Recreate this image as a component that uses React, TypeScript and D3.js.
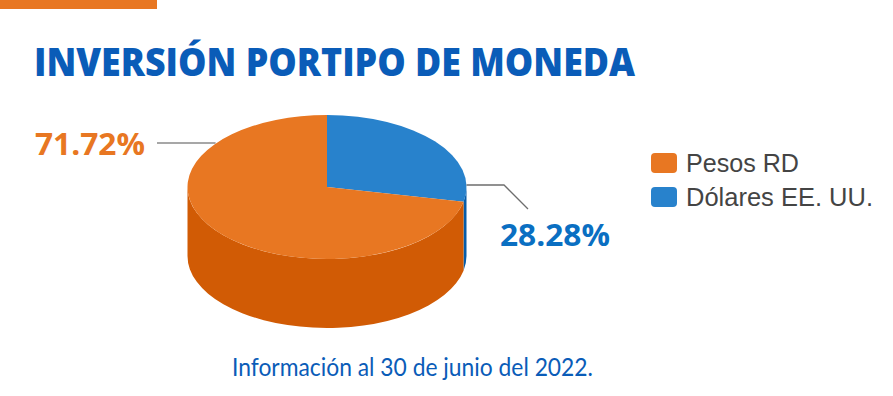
import React from "react";
import * as d3 from "d3";

// datos
const categories = ["Pesos RD", "Dólares EE. UU."];
const values = [71.72, 28.28];
const labels = ["71.72%", "28.28%"];

const topColors = ["#e87722", "#2882cc"];
const sideColors = ["#d15b05", "#065ca9"];
const labelColors = ["#e87722", "#0a6fc2"];

const W = 893;
const H = 396;
const cx = 327;
const cy = 187;
const rx = 139.5;
const ry = 72;
const depth = 69;

const pt = (a: number, dy = 0): [number, number] => [
  cx + rx * Math.sin(a),
  cy - ry * Math.cos(a) + dy,
];

export default function App() {
  // blue slice starts at 12 o'clock, clockwise; orange is the rest
  const pie = d3
    .pie<number>()
    .sort(null)
    .value((d) => d);
  const arcs = pie([values[1], values[0]]).map((a, i) => ({
    ...a,
    idx: i === 0 ? 1 : 0,
  }));

  const topPath = (a0: number, a1: number) => {
    const p0 = pt(a0);
    const p1 = pt(a1);
    const large = a1 - a0 > Math.PI ? 1 : 0;
    return `M${cx},${cy}L${p0[0]},${p0[1]}A${rx},${ry} 0 ${large} 1 ${p1[0]},${p1[1]}Z`;
  };

  const wallPath = (a0: number, a1: number) => {
    const s = Math.max(a0, Math.PI / 2);
    const e = Math.min(a1, (3 * Math.PI) / 2);
    if (e <= s) return null;
    const p0 = pt(s);
    const p1 = pt(e);
    const q1 = pt(e, depth);
    const q0 = pt(s, depth);
    return `M${p0[0]},${p0[1]}A${rx},${ry} 0 0 1 ${p1[0]},${p1[1]}L${q1[0]},${q1[1]}A${rx},${ry} 0 0 0 ${q0[0]},${q0[1]}Z`;
  };

  // leader lines
  const orangeAnchor = pt((307 * Math.PI) / 180);
  const blueAnchor = pt(Math.PI / 2);

  return (
    <svg
      width={W}
      height={H}
      style={{ position: "absolute", left: 0, top: 0, background: "#fff" }}
    >
      <rect x={0} y={0} width={157} height={9} fill="#e87722" />
      <text
        x={34}
        y={76}
        fill="#0a5cb8"
        fontFamily="'Open Sans', sans-serif"
        fontWeight={800}
        fontSize={38}
        textLength={601}
        lengthAdjust="spacingAndGlyphs"
      >
        INVERSIÓN PORTIPO DE MONEDA
      </text>

      <g>
        {arcs.map((a, i) => {
          const d = wallPath(a.startAngle, a.endAngle);
          return d ? <path key={"w" + i} d={d} fill={sideColors[a.idx]} /> : null;
        })}
        {arcs.map((a, i) => (
          <path key={"t" + i} d={topPath(a.startAngle, a.endAngle)} fill={topColors[a.idx]} />
        ))}
      </g>

      <path
        d={`M157,143H${orangeAnchor[0]}`}
        stroke="#8a8a8a"
        strokeWidth={1.3}
        fill="none"
      />
      <path
        d={`M${blueAnchor[0]},${blueAnchor[1] - 2}H504L528,209`}
        stroke="#6e6e6e"
        strokeWidth={1.3}
        fill="none"
      />

      <text
        x={35}
        y={155}
        fill={labelColors[0]}
        fontFamily="'Open Sans', sans-serif"
        fontWeight={700}
        fontSize={31}
        textLength={110}
        lengthAdjust="spacingAndGlyphs"
      >
        {labels[0]}
      </text>
      <text
        x={500}
        y={246}
        fill={labelColors[1]}
        fontFamily="'Open Sans', sans-serif"
        fontWeight={700}
        fontSize={31}
        textLength={110}
        lengthAdjust="spacingAndGlyphs"
      >
        {labels[1]}
      </text>

      {categories.map((c, i) => (
        <g key={c} transform={`translate(651,${153 + i * 34})`}>
          <rect width={26} height={20} rx={4} fill={topColors[i]} />
          <text
            x={35}
            y={19}
            fill="#444"
            fontFamily="'Liberation Sans', Arial, sans-serif"
            fontSize={25}
            textLength={i === 0 ? 113 : 187}
            lengthAdjust="spacingAndGlyphs"
          >
            {c}
          </text>
        </g>
      ))}

      <text
        x={232}
        y={376}
        fill="#0a5cb8"
        fontFamily="Lato, sans-serif"
        fontSize={25}
        textLength={361}
        lengthAdjust="spacingAndGlyphs"
      >
        Información al 30 de junio del 2022.
      </text>
    </svg>
  );
}
